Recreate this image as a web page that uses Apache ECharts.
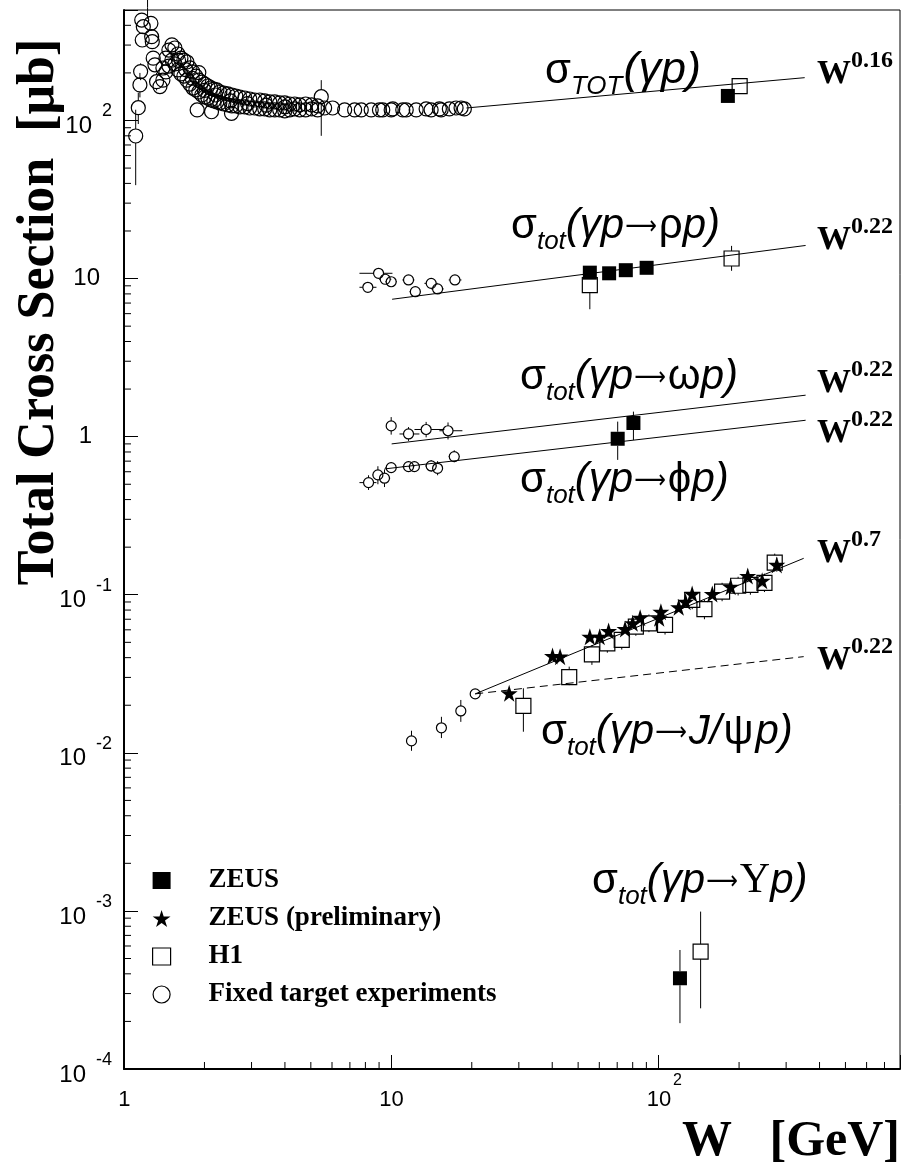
<!DOCTYPE html>
<html><head><meta charset="utf-8">
<script src="https://cdn.jsdelivr.net/npm/echarts@6/dist/echarts.min.js"></script>
<style>html,body{margin:0;padding:0;background:#fff}#c{width:903px;height:1170px}</style>
</head><body><div id="c"></div>
<script>
// ---------------- axis ranges / tick labels ----------------
const X_MIN = 1, X_MAX = 800, Y_MIN = 1e-4, Y_MAX = 500;
const xTickLabels = { '0': '{sp| }{b|1}', '1': '{sp| }{b|10}', '2': '{sp| }{h|2}{b|10}{e|2}' };
const yTickLabels = { '-4': '-4', '-3': '-3', '-2': '-2', '-1': '-1', '0': '1', '1': '10', '2': '2' };

// ---------------- data (W [GeV], sigma [mub]) ----------------
// Fixed target, total photoproduction cross section
const ftTot = [
 [1.106,79.8],[1.131,120.5],[1.147,168],[1.154,204],[1.165,432],[1.170,323],[1.181,392],[1.225,520],
 [1.261,412],[1.269,339],[1.276,315],[1.286,248],[1.305,225],[1.324,176],[1.363,164],
 [1.398,214.8],[1.398,180],[1.435,248],[1.435,203],[1.472,279],[1.472,221],[1.511,301],[1.511,241],
 [1.550,287.5],[1.550,228],[1.591,263.5],[1.591,209],[1.633,248],[1.633,197],[1.675,241],[1.675,191],
 [1.719,234.5],[1.719,180],[1.764,215],[1.764,170],[1.810,203],[1.810,160.5],[1.857,191],[1.857,156],
 [1.905,180],[1.905,151.5],[1.955,175],[1.955,145],[2.006,170],[2.006,140.8],[2.059,165.3],[2.059,138.8],
 [2.113,160.6],[2.113,134.8],[2.168,158],[2.168,132.9],[2.225,156],[2.225,131],[2.283,151.5],[2.283,129.1],
 [2.362,149.3],[2.362,127.2],[2.445,147.2],[2.445,125.4],[2.531,145],[2.531,123.6],[2.619,142.9],[2.619,123.6],
 [2.712,140.8],[2.712,121.8],[2.830,138.8],[2.830,121.8],[2.954,136.8],[2.954,120],[3.085,134.8],[3.085,120],
 [3.220,134.8],[3.220,118.3],[3.362,132.9],[3.362,118.3],[3.510,131],[3.510,116.6],[3.664,131],[3.664,116.6],
 [3.824,129.1],[3.824,116.6],[3.993,129.1],[3.993,114.9],[4.169,127.2],[4.169,116.6],[4.351,127.2],[4.351,118.3],
 [4.542,125.4],[4.542,116.6],[4.782,127.2],[4.782,116.6],[5.035,125.4],[5.035,118.3],[5.300,123.6],[5.300,116.6],
 [1.60,240],[1.70,210],[1.80,185],[2.0,155],[2.2,145],[2.5,133],[2.9,128],[3.4,125],[4.0,122],
 [1.878,116.6],[2.125,113.6],[2.524,111],[1.905,201],[5.47,141.5],
 [5.63,120],[6.03,120],[6.69,116.6],[7.29,116.6],[7.72,116.6],[8.41,116.6],[9.03,116.6],[9.29,116.6],[9.99,116.6],
 [10.13,118.3],[11.04,116.6],[11.37,116.6],[12.39,116.6],[13.50,118.3],[14.09,116.6],[15.13,118.3],[15.36,116.6],
 [16.49,118.3],[17.47,120],[18.24,120],[18.76,118.3]
];
// [W, sigma, sigmaLow, sigmaHigh]
const ftTotErr = [
 [1.106,79.8,39,117],[1.131,120.5,95,150],[1.147,168,140,200],[1.154,204,180,230],[1.225,520,440,800],
 [1.324,176,155,200],[1.363,164,150,180],[1.878,116.6,106,128],[2.125,113.6,104,124],[5.47,141.5,80,180]
];
// Fixed target exclusive channels
const ftRho = [[8.17,8.81],[8.96,10.8],[9.49,9.9],[9.99,9.55],[11.6,9.8],[12.3,8.26],[14.1,9.33],[14.9,8.6],[17.3,9.8]];
// [W, sigma, sigmaLow, sigmaHigh, Wlow, Whigh]
const ftRhoErr = [
 [8.17,8.81,8.3,9.3,7.6,8.8],[8.96,10.8,10.2,11.4,7.6,10.1],[9.49,9.9,9.4,10.4,9.0,10.0],[9.99,9.55,9.05,10.05,9.5,10.5],
 [11.6,9.8,9.2,10.4,11.0,12.2],[12.3,8.26,7.8,8.7,11.7,12.9],[14.1,9.33,8.8,9.9,13.3,14.9],[14.9,8.6,8.1,9.1,14.1,15.7],
 [17.3,9.8,9.2,10.5,16.4,18.3]
];
const ftOmega = [[9.99,1.17],[11.6,1.04],[13.5,1.11],[16.3,1.09]];
const ftOmegaErr = [[9.99,1.17,1.03,1.33,9.6,10.4],[11.6,1.04,0.94,1.15,10.73,12.74],[13.5,1.11,0.99,1.24,12.21,15.8],[16.3,1.09,0.96,1.23,15.13,18.45]];
const ftPhi = [[8.22,0.512],[8.91,0.573],[9.43,0.546],[9.99,0.637],[11.6,0.646],[12.2,0.646],[14.1,0.653],[14.9,0.631],[17.2,0.748]];
const ftPhiErr = [
 [8.22,0.512,0.46,0.57,7.6,8.8],[8.91,0.573,0.50,0.65,8.5,9.3],[9.43,0.546,0.48,0.62,9.0,9.9],[9.99,0.637,0.59,0.69,9.5,10.5],
 [11.6,0.646,0.60,0.70,11.0,12.2],[12.2,0.646,0.60,0.70,11.6,12.8],[14.1,0.653,0.60,0.71,13.4,14.8],[14.9,0.631,0.57,0.70,14.2,15.6],
 [17.2,0.748,0.69,0.82,16.4,18.0]
];
const ftJpsi = [[11.9,0.0119],[15.4,0.0144],[18.2,0.0184],[20.6,0.0236]];
const ftJpsiErr = [[11.9,0.0119,0.0103,0.0138],[15.4,0.0144,0.0124,0.0169],[18.2,0.0184,0.0157,0.0216]];

// ZEUS (filled squares): total, rho, omega, phi, Upsilon
const zeusPts = [[181.6,143],[55.3,10.9],[65.3,10.8],[75.4,11.3],[90.2,11.7],[80.5,1.22],[70.3,0.97],[120.2,3.75e-4]];
const zeusErr = [[181.6,143,133,153],[55.3,10.9,10.3,11.5],[65.3,10.8,10.3,11.3],[75.4,11.3,10.8,11.8],[90.2,11.7,11.2,12.2],
 [80.5,1.22,0.953,1.44],[70.3,0.97,0.713,1.245],[120.2,3.75e-4,1.95e-4,5.66e-4]];

// ZEUS preliminary (stars): J/psi
const zeusPrelim = [[27.6,0.0238],[40.1,0.041],[42.8,0.0406],[55.3,0.0543],[60.2,0.0543],[65.0,0.059],[74.9,0.0608],[80.0,0.066],
 [85.3,0.0716],[100.5,0.0710],[102.0,0.078],[118.9,0.0834],[126.2,0.0904],[133.5,0.101],[158.8,0.101],[186.0,0.1125],
 [215.5,0.1315],[244.0,0.1228],[276.8,0.1545]];
const zeusPrelimErr = [[27.6,0.0238,0.0222,0.0255],[40.1,0.041,0.038,0.044],[42.8,0.0406,0.0376,0.0436],[55.3,0.0543,0.050,0.059],
 [60.2,0.0543,0.050,0.059],[65.0,0.059,0.054,0.064],[74.9,0.0608,0.056,0.066],[80.0,0.066,0.061,0.072],[85.3,0.0716,0.066,0.078],
 [100.5,0.0710,0.065,0.077],[102.0,0.078,0.072,0.085],[118.9,0.0834,0.077,0.091],[126.2,0.0904,0.083,0.098],[133.5,0.101,0.093,0.110],
 [158.8,0.101,0.093,0.110],[186.0,0.1125,0.103,0.122],[215.5,0.1315,0.120,0.144],[244.0,0.1228,0.112,0.134],[276.8,0.1545,0.140,0.172]];

// H1 (open squares): total, rho, J/psi, Upsilon
const h1Pts = [[201,165],[55.3,9.1],[187.5,13.4],[31.2,0.0198],[46.3,0.0301],[56.3,0.042],[64.3,0.0493],[72.8,0.0518],[82.2,0.0628],
 [92.0,0.066],[105.7,0.0644],[133.6,0.0927],[148.4,0.081],[172.8,0.1047],[198.4,0.114],[220.5,0.1153],[248.9,0.119],[271.9,0.1596],
 [143.6,5.53e-4]];
const h1Err = [[201,165,155,176],[55.3,9.1,6.4,10.9],[187.5,13.4,11.2,16.1],[31.2,0.0198,0.0136,0.0256],[46.3,0.0301,0.0268,0.0351],
 [56.3,0.042,0.036,0.048],[64.3,0.0493,0.043,0.056],[72.8,0.0518,0.045,0.059],[82.2,0.0628,0.055,0.071],[92.0,0.066,0.058,0.075],
 [105.7,0.0644,0.056,0.073],[133.6,0.0927,0.081,0.105],[148.4,0.081,0.070,0.093],[172.8,0.1047,0.091,0.119],[198.4,0.114,0.099,0.130],
 [220.5,0.1153,0.100,0.131],[248.9,0.119,0.104,0.136],[271.9,0.1596,0.140,0.182],[143.6,5.53e-4,2.42e-4,9.9e-4]];

// Fitted power laws (end points)
const fitTot = [[19.1,120],[352,186.6]];
const fitRho = [[10.07,7.40],[354.8,16.2]];
const fitOmega = [[10.03,0.90],[354.8,1.83]];
const fitPhi = [[9.43,0.625],[354.8,1.27]];
const fitJpsi07 = [[20.6,0.0236],[349,0.170]];
const fitJpsi022 = [[20.6,0.0236],[349,0.0406]];

// ---------------- helpers ----------------
const SANS = "'Liberation Sans', Arial, 'DejaVu Sans', sans-serif";
const SERIF = "'Liberation Serif', 'Times New Roman', 'DejaVu Serif', serif";
const DJV = "'DejaVu Sans', 'Liberation Sans', sans-serif";
const STAR = 'path://M50,0 L61.2,34.5 L97.6,34.5 L68.2,55.9 L79.4,90.5 L50,69.1 L20.6,90.5 L31.8,55.9 L2.4,34.5 L38.8,34.5 Z';

function errItems(list, r) {
  return list.map(e => [e[0], e[1],
    e[2] !== undefined ? e[2] : e[1], e[3] !== undefined ? e[3] : e[1],
    e[4] !== undefined ? e[4] : e[0], e[5] !== undefined ? e[5] : e[0],
    e[1] > Y_MAX ? 0 : r]);
}
const errData = [].concat(
  errItems(ftTotErr, 7), errItems(ftRhoErr, 5), errItems(ftOmegaErr, 5), errItems(ftPhiErr, 5), errItems(ftJpsiErr, 5),
  errItems(zeusErr, 7), errItems(zeusPrelimErr, 6), errItems(h1Err, 7.5)
);
function seg(x1, y1, x2, y2) {
  return { type: 'line', shape: { x1, y1, x2, y2 }, style: { stroke: '#000', lineWidth: 1 } };
}
function renderErr(params, api) {
  const W = api.value(0), s = api.value(1), lo = api.value(2), hi = api.value(3), wl = api.value(4), wh = api.value(5), r = api.value(6);
  const c = api.coord([W, s]);
  const pl = api.coord([W, lo]), ph = api.coord([W, hi]);
  const ql = api.coord([wl, s]), qh = api.coord([wh, s]);
  const ch = [];
  if (ph[1] < c[1] - r) ch.push(seg(c[0], c[1] - r, c[0], ph[1]));
  if (pl[1] > c[1] + r) ch.push(seg(c[0], c[1] + r, c[0], pl[1]));
  if (ql[0] < c[0] - r) ch.push(seg(ql[0], c[1], c[0] - r, c[1]));
  if (qh[0] > c[0] + r) ch.push(seg(c[0] + r, c[1], qh[0], c[1]));
  return { type: 'group', children: ch };
}
// minor ticks 2..9 x 10^k (axis decoration)
const minorX = [], minorY = [];
for (let k = 0; k <= 2; k++) for (let m = 2; m <= 9; m++) { const v = m * Math.pow(10, k); if (v < X_MAX) minorX.push([v, Y_MIN]); }
for (let k = -4; k <= 2; k++) for (let m = 2; m <= 9; m++) { const v = m * Math.pow(10, k); if (v < Y_MAX) minorY.push([X_MIN, v]); }
function renderMinorX(params, api) { const p = api.coord([api.value(0), Y_MIN]); return seg(p[0], p[1], p[0], p[1] - 7); }
function renderMinorY(params, api) { const p = api.coord([X_MIN, api.value(1)]); return seg(p[0], p[1], p[0] + 7, p[1]); }

// text runs with sub/superscripts (laid out by measured widths; baseline-based)
const mctx = document.createElement('canvas').getContext('2d');
function fontStr(p) { return (p.it ? 'italic ' : '') + (p.b ? 'bold ' : '') + p.s + 'px ' + p.f; }
function run(x, B, pieces) {
  const els = []; let cx = x;
  for (const p of pieces) {
    mctx.font = fontStr(p);
    const sx = p.sx || 1;
    const w = mctx.measureText(p.t).width * sx;
    els.push({ type: 'text', x: cx, y: B + (p.dy || 0) - 0.31 * p.s, scaleX: sx, z: 10, silent: true,
      style: { text: p.t, fontFamily: p.f, fontSize: p.s, fontStyle: p.it ? 'italic' : 'normal', fontWeight: p.b ? 'bold' : 'normal',
        fill: '#000', align: 'left', verticalAlign: 'middle' } });
    cx += w + (p.gap || 0);
  }
  return els;
}
const M = 42, SB = 26;
const ARROW = { t: '⟶', f: DJV, s: 26, sx: 0.85, dy: -4, gap: 2 };
function sigTot(x, B) {
  return run(x, B, [{ t: 'σ', f: SANS, s: M }, { t: 'TOT', f: SANS, s: SB, it: 1, dy: 11, gap: 1 },
    { t: '(γp)', f: SANS, s: 45, it: 1 }]);
}
function sigExcl(x, B, mid) {
  return run(x, B, [{ t: 'σ', f: SANS, s: M }, { t: 'tot', f: SANS, s: SB, it: 1, dy: 11 }, { t: '(γp', f: SANS, s: M, it: 1, gap: 1 },
    ARROW].concat(mid, [{ t: 'p)', f: SANS, s: M, it: 1 }]));
}
function wlab(x, B, exp) {
  return run(x, B, [{ t: 'W', f: SERIF, s: 34, b: 1 }, { t: exp, f: SERIF, s: 24, b: 1, dy: -17 }]);
}

const graphics = [].concat(
  sigTot(545, 84),
  sigExcl(511, 239, [{ t: 'ρ', f: SANS, s: M }]),
  sigExcl(520, 390, [{ t: 'ω', f: SANS, s: M }]),
  sigExcl(520, 493, [{ t: 'ϕ', f: SANS, s: M }]),
  sigExcl(541, 745, [{ t: 'J/', f: SANS, s: M, it: 1, gap: 2 }, { t: 'ψ', f: SANS, s: M, gap: 2 }]),
  sigExcl(592, 894, [{ t: 'Υ', f: SERIF, s: M }]),
  wlab(817, 85, '0.16'), wlab(817, 251, '0.22'), wlab(817, 394, '0.22'), wlab(817, 444, '0.22'),
  wlab(817, 564, '0.7'), wlab(817, 671, '0.22'),
  [{ type: 'text', x: 40, y: 312, rotation: Math.PI / 2, z: 10,
    style: { text: 'Total Cross Section  [μb]', fontFamily: SERIF, fontWeight: 'bold', fontSize: 52, fill: '#000', align: 'center', verticalAlign: 'middle' } },
   { type: 'text', x: 900, y: 1142, z: 10,
    style: { text: 'W   [GeV]', fontFamily: SERIF, fontWeight: 'bold', fontSize: 50, fill: '#000', align: 'right', verticalAlign: 'middle' } }]
);

function lineSeries(data, dashed) {
  return { type: 'line', data, symbol: 'none', showSymbol: false, silent: true, z: 1,
    lineStyle: { color: '#000', width: 1, opacity: 1, type: dashed ? [8, 5] : 'solid' } };
}
const openStyle = { color: 'rgba(255,255,255,0)', borderColor: '#000', borderWidth: 1.2, opacity: 1 };
const fillStyle = { color: '#000', opacity: 1 };
function powIndex(v) { const k = Math.round(Math.log10(v)); return Math.abs(v - Math.pow(10, k)) < 1e-9 * v ? k : null; }

const option = {
  animation: false,
  backgroundColor: '#fff',
  grid: { left: 124, right: 2, top: 10, bottom: 101, show: true, borderColor: '#000', borderWidth: 1, backgroundColor: 'transparent' },
  xAxis: {
    type: 'log', logBase: 10, min: X_MIN, max: X_MAX,
    axisLine: { lineStyle: { color: '#000', width: 2 } },
    axisTick: { inside: true, length: 14, lineStyle: { color: '#000', width: 1 } },
    splitLine: { show: false },
    axisLabel: {
      margin: 4, color: '#000',
      formatter: v => { const k = powIndex(v); return k !== null && xTickLabels[String(k)] ? xTickLabels[String(k)] : ''; },
      rich: {
        sp: { fontSize: 2, lineHeight: 38, verticalAlign: 'middle' },
        b: { fontFamily: SANS, fontSize: 22, lineHeight: 22, verticalAlign: 'bottom', color: '#000' },
        e: { fontFamily: SANS, fontSize: 16, lineHeight: 16, padding: [0, 0, 0, 2], verticalAlign: 'top', color: '#000' },
        h: { fontFamily: SANS, fontSize: 16, lineHeight: 16, padding: [0, 2, 0, 0], verticalAlign: 'top', color: 'rgba(0,0,0,0)' }
      }
    }
  },
  yAxis: {
    type: 'log', logBase: 10, min: Y_MIN, max: Y_MAX,
    axisLine: { lineStyle: { color: '#000', width: 2 } },
    axisTick: { inside: true, length: 14, lineStyle: { color: '#000', width: 1 } },
    splitLine: { show: false },
    axisLabel: {
      margin: 12, color: '#000',
      formatter: v => {
        const k = powIndex(v);
        if (k === null) return '';
        const t = yTickLabels[String(k)];
        if (t === undefined) return '';
        if (k === 0) return '{c1|1}';
        if (k === 1) return '{c10|10}';
        return '{sp| }{b|10}{e|' + t + '}';
      },
      rich: {
        sp: { fontSize: 2, lineHeight: 36, verticalAlign: 'middle' },
        b: { fontFamily: SANS, fontSize: 24, lineHeight: 24, verticalAlign: 'bottom', color: '#000' },
        e: { fontFamily: SANS, fontSize: 18, lineHeight: 18, padding: [0, 0, 0, 10], verticalAlign: 'top', color: '#000' },
        c1: { fontFamily: SANS, fontSize: 24, lineHeight: 24, padding: [0, 20, 0, 0], color: '#000' },
        c10: { fontFamily: SANS, fontSize: 24, lineHeight: 24, padding: [0, 12, 0, 0], color: '#000' }
      }
    }
  },
  legend: {
    orient: 'vertical', left: 152, top: 867, padding: 0, itemWidth: 18, itemHeight: 17, itemGap: 11, selectedMode: false,
    textStyle: { fontFamily: SERIF, fontWeight: 'bold', fontSize: 27, color: '#000', padding: [0, 0, 0, 33] },
    data: [
      { name: 'ZEUS', icon: 'rect', itemStyle: { color: '#000', borderWidth: 0, opacity: 1 } },
      { name: 'ZEUS (preliminary)', icon: STAR, itemStyle: { color: '#000', borderWidth: 0, opacity: 1 } },
      { name: 'H1', icon: 'rect', itemStyle: { color: '#fff', borderColor: '#000', borderWidth: 1.2, opacity: 1 } },
      { name: 'Fixed target experiments', icon: 'circle', itemStyle: { color: '#fff', borderColor: '#000', borderWidth: 1.2, opacity: 1 } }
    ]
  },
  graphic: graphics,
  series: [
    { type: 'custom', silent: true, data: minorX, renderItem: renderMinorX, encode: { x: 0, y: 1 }, z: 5 },
    { type: 'custom', silent: true, data: minorY, renderItem: renderMinorY, encode: { x: 0, y: 1 }, z: 5 },
    lineSeries(fitTot), lineSeries(fitRho), lineSeries(fitOmega), lineSeries(fitPhi), lineSeries(fitJpsi07), lineSeries(fitJpsi022, true),
    { type: 'custom', silent: true, data: errData, renderItem: renderErr, encode: { x: 0, y: 1 }, z: 2 },
    { name: 'Fixed target experiments', type: 'scatter', data: ftTot, symbol: 'circle', symbolSize: 14, itemStyle: openStyle, z: 3 },
    { name: 'Fixed target experiments', type: 'scatter', data: [].concat(ftRho, ftOmega, ftPhi, ftJpsi), symbol: 'circle', symbolSize: 10, itemStyle: openStyle, z: 3 },
    { name: 'H1', type: 'scatter', data: h1Pts, symbol: 'rect', symbolSize: 15, itemStyle: openStyle, z: 3 },
    { name: 'ZEUS', type: 'scatter', data: zeusPts, symbol: 'rect', symbolSize: 14, itemStyle: fillStyle, z: 4 },
    { name: 'ZEUS (preliminary)', type: 'scatter', data: zeusPrelim, symbol: STAR, symbolSize: 17, itemStyle: fillStyle, z: 4 }
  ]
};
const chart = echarts.init(document.getElementById('c'));
chart.setOption(option);
</script>
</body></html>
